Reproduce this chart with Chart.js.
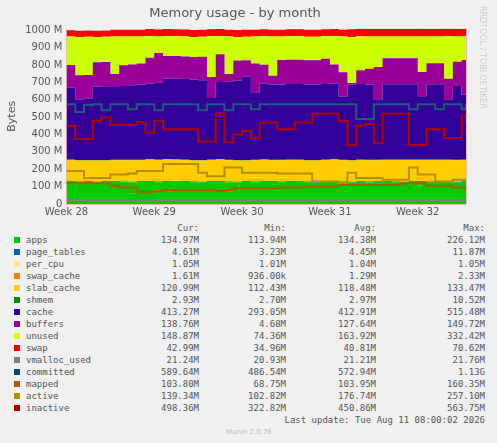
<!DOCTYPE html>
<html><head><meta charset="utf-8">
<script src="https://cdn.jsdelivr.net/npm/chart.js@4/dist/chart.umd.min.js"></script>
<style>
body{margin:0;background:#f0f0f0;width:497px;height:443px;overflow:hidden;position:relative;font-family:"DejaVu Sans Mono",monospace;}
#wrap{position:absolute;left:0;top:0;width:497px;height:222px;}
#side{position:absolute;left:478px;top:6px;writing-mode:vertical-rl;font:8px "DejaVu Sans",sans-serif;color:#ccc;}
#leg{position:absolute;left:0;top:222px;font-size:9px;color:#555;}
.r{position:absolute;white-space:pre;height:12px;line-height:12px;}
.sw{position:absolute;width:6px;height:6px;}
#foot{position:absolute;left:226px;top:428px;font:7px "DejaVu Sans",sans-serif;color:#bbb;}
</style></head><body>
<div id="wrap"><canvas id="c" width="497" height="222"></canvas></div>
<div id="side">RRDTOOL / TOBI OETIKER</div>
<div id="leg"></div>
<div id="foot">Munin 2.0.76</div>
<script>
const weeks = [0,0.1,0.2,0.3,0.4,0.5,0.6,0.7,0.8,0.9,1,1.1,1.2,1.3,1.4,1.5,1.6,1.7,1.8,1.9,2,2.1,2.2,2.3,2.4,2.5,2.6,2.7,2.8,2.9,3,3.1,3.2,3.3,3.4,3.5,3.6,3.7,3.8,3.9,4,4.1,4.2,4.3,4.4,4.5,4.55];
const weekLabels = ["Week 28","Week 29","Week 30","Week 31","Week 32"];
const apps = [126,125,127,124,126,128,125,124,126,127,125,126,128,127,125,124,126,127,125,124,126,125,127,126,125,126,127,125,124,126,127,125,124,126,125,127,126,125,124,126,127,125,126,125,124,126,125];
const page_tables = [4.5,4.5,4.5,4.5,4.5,4.5,4.5,4.5,4.5,4.5,4.5,4.5,4.5,4.5,4.5,4.5,4.5,4.5,4.5,4.5,4.5,4.5,4.5,4.5,4.5,4.5,4.5,4.5,4.5,4.5,4.5,4.5,4.5,4.5,4.5,4.5,4.5,4.5,4.5,4.5,4.5,4.5,4.5,4.5,4.5,4.5,4.6];
const per_cpu = [1,1,1,1,1,1,1,1,1,1,1,1,1,1,1,1,1,1,1,1,1,1,1,1,1,1,1,1,1,1,1,1,1,1,1,1,1,1,1,1,1,1,1,1,1,1,1];
const swap_cache = [1.3,1.3,1.3,1.3,1.3,1.3,1.3,1.3,1.3,1.3,1.3,1.3,1.3,1.3,1.3,1.3,1.3,1.3,1.3,1.3,1.3,1.3,1.3,1.3,1.3,1.3,1.3,1.3,1.3,1.3,1.3,1.3,1.3,1.3,1.3,1.3,1.3,1.3,1.3,1.3,1.3,1.3,1.3,1.3,1.3,1.3,1.6];
const slab_cache = [120,118,117,119,118,117,120,121,119,122,121,123,120,119,118,120,121,122,120,119,118,120,121,119,120,121,120,119,120,121,122,120,119,121,120,118,120,121,122,120,119,121,120,122,121,120,121];
const shmem = [3,3,3,3,3,3,3,3,3,3,3,3,3,3,3,3,3,3,3,3,3,3,3,3,3,3,3,3,3,3,3,3,3,3,3,3,3,3,3,3,3,3,3,3,3,3,2.9];
const cache = [414,349,354,424,424,419,424,429,434,434,444,464,464,469,464,459,354,444,449,459,479,389,434,434,434,434,434,434,434,434,434,364,434,434,434,344,434,434,434,434,364,434,434,344,424,374,424];
const buffers = [130,140,135,140,140,75,120,120,120,150,170,130,130,125,130,135,120,160,45,115,95,165,110,50,140,140,140,140,140,145,110,140,10,80,90,190,150,150,150,150,140,120,120,120,140,200,80];
const unused = [165,220,220,145,145,215,165,160,155,125,95,115,115,115,115,115,235,105,215,135,135,155,165,225,135,135,135,135,135,130,165,205,265,195,185,175,125,125,125,125,205,155,155,245,145,135,205];
const swap = [35,35,35,35,35,40,40,40,40,40,40,40,40,40,40,40,40,40,40,40,40,40,40,40,40,40,40,40,40,40,40,40,45,45,45,45,45,45,45,45,45,45,45,45,45,45,45];
const vmalloc_used = [21,21,21,21,21,21,21,21,21,21,21,21,21,21,21,21,21,21,21,21,21,21,21,21,21,21,21,21,21,21,21,21,21,21,21,21,21,21,21,21,21,21,21,21,21,21,21];
const committed = [575,530,570,575,540,575,575,545,575,575,540,575,575,575,575,540,575,575,540,575,575,545,575,575,575,575,575,575,575,575,575,575,575,490,490,575,575,575,575,545,575,575,545,575,575,545,575];
const mapped = [120,120,120,120,120,105,95,95,70,70,75,80,80,80,80,80,80,75,80,90,90,90,90,90,95,95,95,100,100,100,100,110,110,110,110,110,110,110,120,120,120,105,105,105,95,95,100];
const active = [190,190,150,150,150,170,170,175,190,190,190,230,230,230,230,180,160,160,210,210,180,180,180,180,175,175,175,175,130,130,130,120,180,150,150,150,140,140,140,210,170,170,130,130,140,140,140];
const inactive = [450,375,375,480,500,455,455,455,470,410,480,430,430,430,430,360,360,520,355,400,420,380,470,470,430,430,470,470,520,520,520,480,340,450,460,350,520,520,520,340,340,430,430,380,380,510,470];

const legendRows = [
 ["apps","#00cc00","134.97M","113.94M","134.38M","226.12M"],
 ["page_tables","#0066b3","4.61M","3.23M","4.45M","11.87M"],
 ["per_cpu","#ffe680","1.05M","1.01M","1.04M","1.05M"],
 ["swap_cache","#ff8000","1.61M","936.00k","1.29M","2.33M"],
 ["slab_cache","#ffcc00","120.99M","112.43M","118.48M","133.47M"],
 ["shmem","#008f00","2.93M","2.70M","2.97M","10.52M"],
 ["cache","#330099","413.27M","293.05M","412.91M","515.48M"],
 ["buffers","#990099","138.76M","4.68M","127.64M","149.72M"],
 ["unused","#ccff00","148.87M","74.36M","163.92M","332.42M"],
 ["swap","#ff0000","42.99M","34.96M","40.81M","70.62M"],
 ["vmalloc_used","#808080","21.24M","20.93M","21.21M","21.76M"],
 ["committed","#00487d","589.64M","486.54M","572.94M","1.13G"],
 ["mapped","#b35a00","103.80M","68.75M","103.95M","160.35M"],
 ["active","#b38f00","139.34M","102.82M","176.74M","257.10M"],
 ["inactive","#b30000","498.36M","322.82M","450.86M","563.75M"]
];
const stackSeries = [apps,page_tables,per_cpu,swap_cache,slab_cache,shmem,cache,buffers,unused,swap];
const lineSeries = [[vmalloc_used,10],[committed,11],[mapped,12],[active,13],[inactive,14]];
const pts = a => a.map((v,i)=>({x:weeks[i],y:v}));
const datasets = [];
stackSeries.forEach((a,i)=>{
  const col = legendRows[i][1];
  datasets.push({data:pts(a),stack:'mem',order:10,backgroundColor:col,borderColor:col,borderWidth:0,pointRadius:0,stepped:true,fill:i===0?'origin':'-1'});
});
const lineCols = {10:"#808080",11:"#1a5e7a",12:"#b35a00",13:"#b38f00",14:"#b30000"};
lineSeries.forEach(([a,k])=>{
  datasets.push({data:pts(a),stack:'l'+k,order:0,borderColor:lineCols[k],borderWidth:2,pointRadius:0,stepped:true,fill:false});
});
new Chart(document.getElementById('c'),{
 type:'line',
 data:{datasets},
 options:{responsive:false,animation:false,
  layout:{padding:{left:4,right:31,top:0,bottom:2}},
  plugins:{legend:{display:false},tooltip:{enabled:false},
   title:{display:true,text:'Memory usage - by month',color:'#555',font:{family:'DejaVu Sans',size:13,weight:'normal'},padding:{top:6,bottom:7}}},
  scales:{
   x:{type:'linear',min:0,max:4.55,z:1,
      ticks:{stepSize:1,autoSkip:false,color:'#555',font:{family:'DejaVu Sans',size:10},padding:2,callback:v=>Number.isInteger(v)?weekLabels[v]:''},
      grid:{color:'rgba(220,120,120,0.45)',drawTicks:false},border:{display:false}},
   y:{stacked:true,min:0,max:1010,z:1,
      afterBuildTicks:s=>{s.ticks=[0,100,200,300,400,500,600,700,800,900,1000].map(v=>({value:v}));},
      ticks:{color:'#555',font:{family:'DejaVu Sans',size:10},padding:4,callback:v=>v===0?'0':v+' M'},
      title:{display:true,text:'Bytes',color:'#555',font:{family:'DejaVu Sans',size:11},padding:2},
      grid:{color:'rgba(220,120,120,0.45)',drawTicks:false},border:{display:false}}
  }}
});
const leg = document.getElementById('leg');
let h = '<div class="r" style="left:0;top:0;width:199px;text-align:right">Cur:</div>'+
 '<div class="r" style="left:0;top:0;width:286px;text-align:right">Min:</div>'+
 '<div class="r" style="left:0;top:0;width:376px;text-align:right">Avg:</div>'+
 '<div class="r" style="left:0;top:0;width:485px;text-align:right">Max:</div>';
legendRows.forEach((r,i)=>{
  const t = 12 + i*12;
  h += `<div class="sw" style="left:14px;top:${t+3}px;background:${r[1]}"></div>`;
  h += `<div class="r" style="left:26px;top:${t}px">${r[0]}</div>`;
  [199,286,376,485].forEach((w,j)=>{h += `<div class="r" style="left:0;top:${t}px;width:${w}px;text-align:right">${r[2+j]}</div>`;});
});
h += `<div class="r" style="left:0;top:${12+15*12}px;width:485px;text-align:right">Last update: Tue Aug 11 08:00:02 2026</div>`;
leg.innerHTML = h;
</script>
</body></html>
